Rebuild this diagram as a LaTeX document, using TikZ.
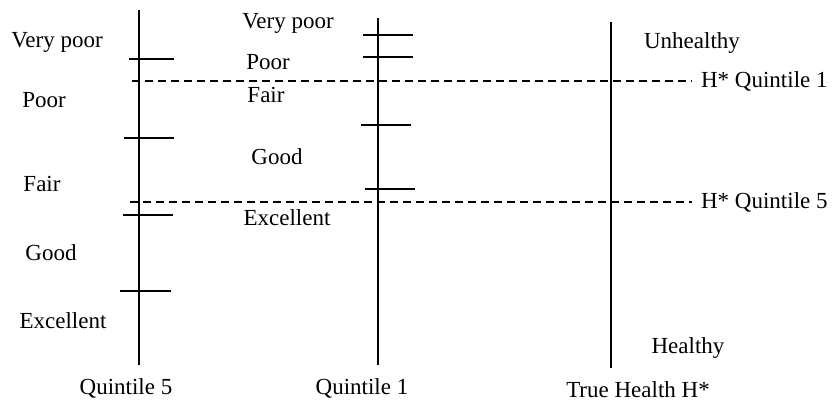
\documentclass[tikz,border=0pt]{standalone}
\usepackage{fontspec}
\setmainfont{Liberation Serif}
\begin{document}
\begin{tikzpicture}[x=0.5pt,y=-0.5pt,
  axis/.style={line width=1pt},
  tick/.style={line width=0.8pt},
  cut/.style={line width=0.8pt, dash pattern=on 4pt off 2.5pt},
  lab/.style={inner sep=0pt, font=\fontsize{11.5}{13}\selectfont}]
\useasboundingbox (0,0) rectangle (833,402);
% axes
\coordinate (a1t) at (139,10); \coordinate (a1b) at (139,365);
\coordinate (a2t) at (378,18); \coordinate (a2b) at (378,365);
\coordinate (a3t) at (611,22); \coordinate (a3b) at (611,368);
\draw[axis] (a1t) -- (a1b);
\draw[axis] (a2t) -- (a2b);
\draw[axis] (a3t) -- (a3b);
% ticks quintile 5
\coordinate (t1a) at (129,59); \coordinate (t1b) at (174,59);
\coordinate (t2a) at (124,138); \coordinate (t2b) at (174,138);
\coordinate (t3a) at (123,215); \coordinate (t3b) at (173,215);
\coordinate (t4a) at (120,291); \coordinate (t4b) at (171,291);
\draw[tick] (t1a) -- (t1b);
\draw[tick] (t2a) -- (t2b);
\draw[tick] (t3a) -- (t3b);
\draw[tick] (t4a) -- (t4b);
% ticks quintile 1
\coordinate (u1a) at (363,35); \coordinate (u1b) at (413,35);
\coordinate (u2a) at (363,57); \coordinate (u2b) at (413,57);
\coordinate (u3a) at (361,125); \coordinate (u3b) at (411,125);
\coordinate (u4a) at (365,189); \coordinate (u4b) at (415,189);
\draw[tick] (u1a) -- (u1b);
\draw[tick] (u2a) -- (u2b);
\draw[tick] (u3a) -- (u3b);
\draw[tick] (u4a) -- (u4b);
% cut lines
\coordinate (c1a) at (132,81); \coordinate (c1b) at (692,81);
\coordinate (c5a) at (130,202); \coordinate (c5b) at (692,202);
\draw[cut] (c1a) -- (c1b);
\draw[cut] (c5a) -- (c5b);
\node[lab, anchor=east] (hq1) at (828,81) {H* Quintile 1};
\node[lab, anchor=east] (hq5) at (828,202) {H* Quintile 5};
% left labels
\node[lab] (l1) at (57,42) {Very poor};
\node[lab] (l2) at (44,100) {Poor};
\node[lab] (l3) at (42,184) {Fair};
\node[lab] (l4) at (51,253) {Good};
\node[lab] (l5) at (63,321) {Excellent};
% middle labels
\node[lab] (m1) at (288,23) {Very poor};
\node[lab] (m2) at (268,62) {Poor};
\node[lab] (m3) at (266,95) {Fair};
\node[lab] (m4) at (277,157) {Good};
\node[lab] (m5) at (287,218) {Excellent};
% right labels
\node[lab] (uh) at (692,43) {Unhealthy};
\node[lab] (hh) at (688,348) {Healthy};
% bottom labels
\node[lab] (q5) at (126,388) {Quintile 5};
\node[lab] (q1) at (362,388) {Quintile 1};
\node[lab] (th) at (638,390) {True Health H*};
\end{tikzpicture}
\end{document}
